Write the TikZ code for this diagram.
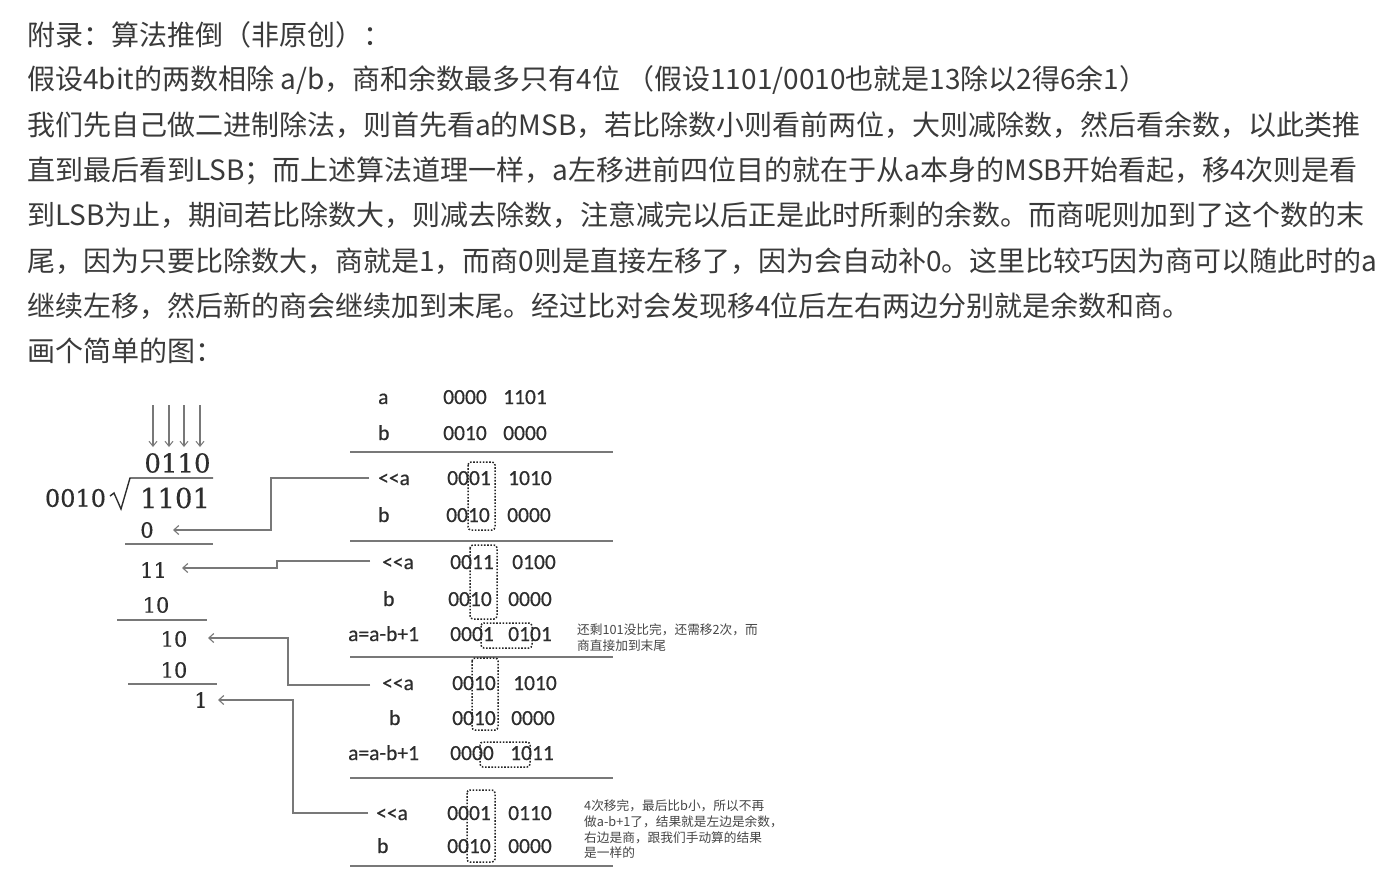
\documentclass[tikz,border=0pt]{standalone}
\usepackage{fontspec}
\usetikzlibrary{arrows.meta}
\newfontfamily\cjkfont{Noto Sans CJK SC}
\newfontfamily\tabfont[FakeBold=0.5]{Carlito}
\newfontfamily\divfont[FakeBold=0.4]{DejaVu Serif}
\definecolor{txt}{RGB}{58,58,58}
\definecolor{tabtxt}{RGB}{45,45,45}
\definecolor{ln}{RGB}{120,120,120}
\definecolor{note}{RGB}{70,70,70}
\tikzset{
  para/.style={font=\cjkfont\fontsize{28}{32}\selectfont, text=txt, inner sep=0, anchor=base west},
  tab/.style={font=\tabfont\fontsize{21.5}{24}\selectfont, text=tabtxt, inner sep=0, anchor=base west},
  dv/.style={font=\divfont\fontsize{#1}{#1}\selectfont, text=tabtxt, inner sep=0, anchor=center},
  notetext/.style={font=\cjkfont\fontsize{12.7}{15}\selectfont, text=note, inner sep=0, anchor=base west},
  rule/.style={draw=ln, line width=1.4pt},
  conn/.style={draw=ln, line width=1.2pt, -{Straight Barb[length=5pt,width=9pt,line width=1.1pt]}},
  dbox/.style={draw=black!85, line width=1.5pt, dash pattern=on 1.6pt off 1.6pt, rounded corners=3pt},
}
\begin{document}
\begin{tikzpicture}[x=1pt,y=-1pt]
\useasboundingbox (0,0) rectangle (1399,894);
\fill[white] (0,0) rectangle (1399,894);

% ---- paragraph ----
\node[para] (p1) at (27,45) {附录：算法推倒（非原创）：};
\node[para] (p2) at (27,89) {假设4bit的两数相除 a/b，商和余数最多只有4位 （假设1101/0010也就是13除以2得6余1）};
\node[para] (p3) at (27,135) {我们先自己做二进制除法，则首先看a的MSB，若比除数小则看前两位，大则减除数，然后看余数，以此类推};
\node[para] (p4) at (27,180) {直到最后看到LSB；而上述算法道理一样，a左移进前四位目的就在于从a本身的MSB开始看起，移4次则是看};
\node[para] (p5) at (27,225) {到LSB为止，期间若比除数大，则减去除数，注意减完以后正是此时所剩的余数。而商呢则加到了这个数的末};
\node[para] (p6) at (27,271) {尾，因为只要比除数大，商就是1，而商0则是直接左移了，因为会自动补0。这里比较巧因为商可以随此时的a};
\node[para] (p7) at (27,316) {继续左移，然后新的商会继续加到末尾。经过比对会发现移4位后左右两边分别就是余数和商。};
\node[para] (p8) at (27,361) {画个简单的图：};

% ---- long division ----
\foreach \x [count=\i] in {153,169,184,200}
  \draw[draw=ln, line width=1.1pt, -{Straight Barb[length=5pt,width=8pt,line width=1pt]}] (\x,405) coordinate (da\i) -- (\x,447) coordinate (db\i);
\node[dv=26] (q) at (177.5,463) {0110};
\node[dv=24] (dvs) at (75.5,498) {0010};
\node[dv=27.5] (dvd) at (175,498) {1101};
\draw[draw=tabtxt, line width=1.4pt] (110,496) -- (114,493) -- (121,509) -- (130,478) -- (213,478);
\node[dv=21] (r0) at (147,530) {0};
\draw[rule] (125,544) -- (213,544);
\node[dv=21] (r1) at (153.5,570) {11};
\node[dv=21] (r2) at (156,605) {10};
\draw[rule] (117,620) -- (207,620);
\node[dv=21] (r3) at (174,639) {10};
\node[dv=21] (r4) at (174,670) {10};
\draw[rule] (128,684) -- (217,684);
\node[dv=21] (r5) at (201,700) {1};

% ---- table ----
\node[tab] (la1) at (378,404) {a};
\node[tab] (n11) at (443,404) {0000};
\node[tab] (n12) at (503,404) {1101};
\node[tab] (lb1) at (378,440) {b};
\node[tab] (n21) at (443,440) {0010};
\node[tab] (n22) at (503,440) {0000};
\draw[rule] (350,452) -- (613,452);

\node[tab] (ls2) at (378,485) {<<a};
\node[tab] (n31) at (447,485) {0001};
\node[tab] (n32) at (508,485) {1010};
\node[tab] (lb2) at (378,522) {b};
\node[tab] (n41) at (446,522) {0010};
\node[tab] (n42) at (507,522) {0000};
\draw[rule] (350,541) -- (613,541);

\node[tab] (ls3) at (382,569) {<<a};
\node[tab] (n51) at (450,569) {0011};
\node[tab] (n52) at (512,569) {0100};
\node[tab] (lb3) at (383,606) {b};
\node[tab] (n61) at (448,606) {0010};
\node[tab] (n62) at (508,606) {0000};
\node[tab] (lc3) at (348,641) {a=a-b+1};
\node[tab] (n71) at (450,641) {0001};
\node[tab] (n72) at (508,641) {0101};
\draw[rule] (350,657) -- (613,657);

\node[tab] (ls4) at (382,690) {<<a};
\node[tab] (n81) at (452,690) {0010};
\node[tab] (n82) at (513,690) {1010};
\node[tab] (lb4) at (389,725) {b};
\node[tab] (n91) at (452,725) {0010};
\node[tab] (n92) at (511,725) {0000};
\node[tab] (lc4) at (348,760) {a=a-b+1};
\node[tab] (na1) at (450,760) {0000};
\node[tab] (na2) at (510,760) {1011};
\draw[rule] (350,778) -- (613,778);

\node[tab] (ls5) at (376,820) {<<a};
\node[tab] (nb1) at (447,820) {0001};
\node[tab] (nb2) at (508,820) {0110};
\node[tab] (lb5) at (377,853) {b};
\node[tab] (nc1) at (447,853) {0010};
\node[tab] (nc2) at (508,853) {0000};
\draw[rule] (350,866) -- (613,866);

% dotted boxes
\draw[dbox] (468,462) rectangle (495,530);
\draw[dbox] (470,545) rectangle (497,619);
\draw[dbox] (481,623) rectangle (532,648);
\draw[dbox] (472,658) rectangle (498,730);
\draw[dbox] (480,742) rectangle (530,767);
\draw[dbox] (467,790) rectangle (495,862);

% notes
\node[notetext] (na) at (577,634) {还剩101没比完，还需移2次，而};
\node[notetext] (nb) at (577,650) {商直接加到末尾};
\node[notetext] (nc) at (584,810) {4次移完，最后比b小，所以不再};
\node[notetext] (nd) at (584,826) {做a-b+1了，结果就是左边是余数，};
\node[notetext] (ne) at (584,842) {右边是商，跟我们手动算的结果};
\node[notetext] (nf) at (584,857) {是一样的};

% connectors
\coordinate (s1) at (369,478);
\coordinate (t1) at (173,530);
\coordinate (s2) at (370,561);
\coordinate (t2) at (182,568);
\coordinate (s3) at (370,685);
\coordinate (t3) at (208,638);
\coordinate (s4) at (368,813);
\coordinate (t4) at (218,700);
\draw[conn] (s1) -- (271,478) -- (271,530) -- (t1);
\draw[conn] (s2) -- (277,561) -- (277,568) -- (t2);
\draw[conn] (s3) -- (288,685) -- (288,638) -- (t3);
\draw[conn] (s4) -- (293,813) -- (293,700) -- (t4);
\end{tikzpicture}
\end{document}
